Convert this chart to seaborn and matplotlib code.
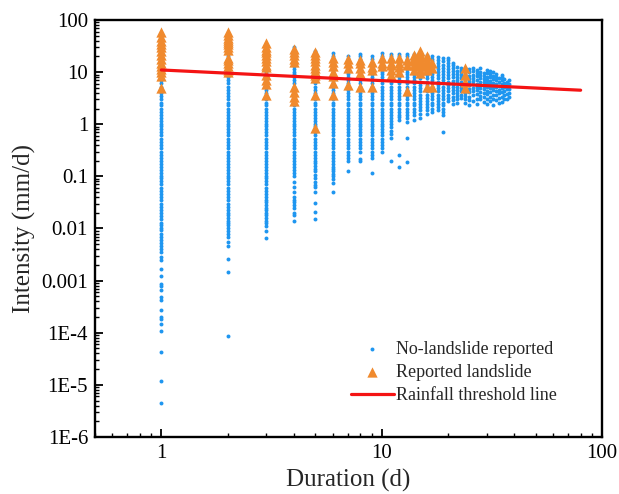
import numpy as np
import pandas as pd
import matplotlib
matplotlib.use("Agg")
import matplotlib.pyplot as plt
import seaborn as sns
from matplotlib.ticker import FixedLocator, LogLocator, NullFormatter

# Rainfall events with no reported landslide: intensity (mm/d) for each duration (d)
i_d01 = [4.5e-6, 1.2e-5, 4.3e-5, 1.1e-4, 1.5e-4, 1.8e-4, 2.0e-4, 2.7e-4, 4.3e-4, 4.8e-4,
         6.6e-4, 7.8e-4, 8.5e-4, 1.2e-3, 1.7e-3, 2.5e-3, 2.8e-3,
         0.0035, 0.004, 0.0046, 0.0053, 0.0061, 0.007, 0.008, 0.0092,
         0.01, 0.0115, 0.013, 0.015, 0.0175, 0.02, 0.023, 0.026, 0.03, 0.035, 0.04, 0.046,
         0.053, 0.061, 0.07, 0.08, 0.092,
         0.1, 0.115, 0.13, 0.15, 0.175, 0.2, 0.23, 0.26, 0.3, 0.35, 0.4, 0.46, 0.53, 0.61,
         0.7, 0.8, 0.92,
         1, 1.15, 1.3, 1.5, 1.75, 2, 2.3, 2.6, 3, 3.5, 4, 4.6, 5.3, 6.1, 7, 8, 9.2,
         10, 11.5, 13, 15, 17.5, 20, 23, 26, 30, 35, 40, 46, 53]
i_d02 = [8.5e-5, 1.45e-3, 2.6e-3, 4.6e-3, 5.5e-3, 0.0068, 0.008, 0.0089, 0.01, 0.0115,
         0.0126, 0.014, 0.016, 0.0178, 0.02, 0.023, 0.026, 0.03,
         0.035, 0.04, 0.046, 0.053, 0.061, 0.07, 0.08, 0.092,
         0.1, 0.115, 0.13, 0.15, 0.175, 0.2, 0.23, 0.26, 0.3, 0.35, 0.4, 0.46, 0.53, 0.61,
         0.7, 0.8, 0.92,
         1, 1.15, 1.3, 1.5, 1.75, 2, 2.3, 2.6, 3, 3.5, 4, 4.6, 5.3, 6.1, 7, 8, 9.2,
         10, 11.5, 13, 15, 17.5, 20, 23, 26, 30, 35, 40, 46, 53]
i_d03 = [0.0066, 0.0089, 0.011, 0.0126, 0.014, 0.016, 0.0178, 0.02, 0.0224, 0.025, 0.028,
         0.0316, 0.035, 0.04, 0.046, 0.053, 0.061, 0.07, 0.08, 0.092,
         0.1, 0.115, 0.13, 0.15, 0.175, 0.2, 0.23, 0.26, 0.3, 0.35, 0.4, 0.46, 0.53, 0.61,
         0.7, 0.8, 0.92,
         1, 1.15, 1.3, 1.5, 1.75, 2, 2.3, 2.6, 3, 3.5, 4, 4.6, 5.3, 6.1, 7, 8, 9.2,
         10, 11.5, 13, 15, 17.5, 20, 23, 26, 30, 35]
i_d04 = [0.0138, 0.0178, 0.02, 0.025, 0.028, 0.0316, 0.0355, 0.04, 0.05, 0.063, 0.079,
         0.1, 0.115, 0.13, 0.15, 0.175, 0.2, 0.23, 0.26, 0.3, 0.35, 0.4, 0.46, 0.53, 0.61,
         0.7, 0.8, 0.92,
         1, 1.15, 1.3, 1.5, 1.75, 2, 2.3, 2.6, 3, 3.5, 4, 4.6, 5.3, 6.1, 7, 8, 9.2,
         10, 11.5, 13, 15, 17.5, 20, 23, 26, 30]
i_d05 = [0.015, 0.021, 0.031, 0.05, 0.063, 0.068, 0.079, 0.093, 0.107, 0.126, 0.141,
         0.158, 0.178, 0.2, 0.23, 0.26, 0.3, 0.35, 0.4, 0.46, 0.53, 0.61, 0.7, 0.8, 0.92,
         1, 1.15, 1.3, 1.5, 1.75, 2, 2.3, 2.6, 3, 3.5, 4, 4.6, 5.3, 6.1, 7, 8, 9.2,
         10, 11.5, 13, 15, 17.5, 20, 23, 26]
i_d06 = [0.05, 0.074, 0.089, 0.1, 0.112, 0.126, 0.141, 0.15, 0.175, 0.2, 0.23, 0.26,
         0.3, 0.35, 0.4, 0.46, 0.53, 0.61, 0.7, 0.8, 0.92,
         1, 1.15, 1.3, 1.5, 1.75, 2, 2.3, 2.6, 3, 3.5, 4, 4.6, 5.3, 6.1, 7, 8, 9.2,
         10, 11.5, 13, 15, 17.5, 20, 23]
i_d07 = [0.126, 0.2, 0.224, 0.26, 0.3, 0.35, 0.4, 0.46, 0.53, 0.61, 0.7, 0.8, 0.92,
         1, 1.15, 1.3, 1.5, 1.75, 2, 2.3, 2.6, 3, 3.5, 4, 4.6, 5.3, 6.1, 7, 8, 9.2,
         10, 11.5, 13, 15, 17.5, 20]
i_d08 = [0.2, 0.22, 0.3, 0.35, 0.4, 0.46, 0.53, 0.61, 0.7, 0.8, 0.92,
         1, 1.15, 1.3, 1.5, 1.75, 2, 2.3, 2.6, 3, 3.5, 4, 4.6, 5.3, 6.1, 7, 8, 9.2,
         10, 11.5, 13, 15, 17.5, 20, 22]
i_d09 = [0.115, 0.23, 0.26, 0.3, 0.35, 0.4, 0.46, 0.53, 0.61, 0.7, 0.8, 0.92,
         1, 1.15, 1.3, 1.5, 1.75, 2, 2.3, 2.6, 3, 3.5, 4, 4.6, 5.3, 6.1, 7, 8, 9.2,
         10, 11.5, 13, 15, 17.5, 20]
i_d10 = [0.3, 0.35, 0.4, 0.46, 0.53, 0.61, 0.7, 0.8, 0.92,
         1, 1.15, 1.3, 1.5, 1.75, 2, 2.3, 2.6, 3, 3.5, 4, 4.6, 5.3, 6.1, 7, 8, 9.2,
         10, 11.5, 13, 15, 17.5, 20, 23]
i_d11 = [0.2, 0.55, 0.65, 0.75, 0.87,
         1, 1.15, 1.3, 1.5, 1.75, 2, 2.3, 2.6, 3, 3.5, 4, 4.6, 5.3, 6.1, 7, 8, 9.2,
         10, 11.5, 13, 15, 17.5, 20, 22]
i_d12 = [0.15, 0.26, 1.2, 1.4, 1.5, 1.75, 2, 2.3, 2.6, 3, 3.5, 4, 4.6, 5.3, 6.1, 7, 8, 9.2,
         10, 11.5, 13, 15, 17.5, 20, 22]
i_d13 = [0.19, 0.54, 1.1, 1.3, 1.5, 1.75, 2, 2.3, 2.6, 3, 3.5, 4, 4.6, 5.3, 6.1, 7, 8, 9.2,
         10, 11.5, 13, 15, 17.5, 20, 22]
i_d14 = [1.2, 1.5, 1.75, 2, 2.3, 2.6, 3, 3.5, 4, 4.6, 5.3, 6.1, 7, 8, 9.2,
         10, 11.5, 13, 15, 17.5, 20, 22]
i_d15 = [1.3, 1.6, 1.85, 2.1, 2.4, 2.8, 3.2, 3.7, 4.3, 5, 5.7, 6.6, 7.6, 8.7,
         10, 11.5, 13, 15, 17.5, 20, 22]
i_d16 = [1.6, 1.85, 2.1, 2.4, 2.8, 3.2, 3.7, 4.3, 5, 5.7, 6.6, 7.6, 8.7,
         10, 11.5, 13, 15, 17.5, 21]
i_d17 = [1.75, 2, 2.3, 2.6, 3, 3.5, 4, 4.6, 5.3, 6.1, 7, 8, 9.2,
         10.5, 12, 14, 16, 18, 20]
i_d18 = [1.85, 2.1, 2.4, 2.8, 3.2, 3.7, 4.3, 5, 5.7, 6.6, 7.6, 8.7,
         10, 11.5, 13, 15, 17, 19.5]
i_d19 = [0.7, 1.5, 1.75, 2, 2.3, 2.6, 3, 3.5, 4, 4.6, 5.3, 6.1, 7, 8, 9.2,
         10.5, 12, 14, 16, 18.5]
i_d20 = [2.8, 3.2, 3.7, 4.3, 5, 5.7, 6.6, 7.6, 8.7, 10, 11.5, 13, 15, 17, 18.5]
i_d21 = [2.5, 2.9, 3.4, 3.9, 4.5, 5.2, 6, 6.9, 8, 9.2, 10.5, 12, 13.5, 15]
i_d22 = [2.6, 3, 3.5, 4, 4.6, 5.3, 6.1, 7, 8, 9.2, 10.5, 12.5]
i_d23 = [3.2, 3.7, 4.3, 5, 5.7, 6.6, 7.6, 8.7, 10, 11, 12]
i_d24 = [2.6, 3.0, 3.5, 4.0, 4.6, 5.3, 6.1, 7.0, 8.0, 9.2, 10.5, 12]
i_d25 = [2.3, 2.9, 3.4, 4.1, 4.8, 5.6, 6.5, 7.5, 8.6, 10, 11.5]
i_d26 = [2.8, 3.6, 4.3, 5.0, 5.8, 6.8, 7.8, 9.0, 10.5, 12]
i_d27 = [2.4, 3.1, 3.8, 4.5, 5.2, 6.0, 7.2, 8.4, 9.6, 11]
i_d28 = [3.0, 3.5, 4.2, 4.9, 5.7, 6.6, 7.7, 8.9, 10.2, 11.8]
i_d29 = [2.7, 3.3, 4.0, 4.7, 5.5, 6.4, 7.4, 8.5, 9.8]
i_d30 = [2.5, 3.0, 3.8, 4.4, 5.2, 6.1, 7.1, 8.2, 9.5, 11]
i_d31 = [2.8, 3.4, 4.1, 4.9, 5.8, 6.8, 7.9, 9.2, 10.5]
i_d32 = [2.3, 3.1, 3.7, 4.5, 5.3, 6.2, 7.3, 8.5, 10]
i_d33 = [2.9, 3.6, 4.3, 5.1, 6.0, 7.0, 8.1, 9.4]
i_d34 = [2.6, 3.2, 3.9, 4.6, 5.5, 6.5, 7.6]
i_d35 = [2.7, 3.4, 4.2, 5.0, 5.9, 7.0, 8.2, 9.0]
i_d36 = [3.0, 3.6, 4.4, 5.3, 6.3, 7.4]
i_d37 = [3.1, 3.8, 4.7, 5.6, 6.6]
i_d38 = [3.3, 4.0, 4.8, 5.8, 7.0]

# Rainfall events with a reported landslide
slide_duration = ([1] * 14 + [2] * 14 + [3] * 13 + [4] * 9 + [5] * 11 + [6] * 7 + [7] * 4
                  + [8] * 5 + [9] * 4 + [10] * 3 + [11] * 5 + [12] * 4 + [13] * 3 + [14] * 5
                  + [15] * 8 + [16] * 6 + [17] * 3 + [24] * 4)
slide_intensity = [58, 47, 40, 35, 30, 25, 21, 18, 15, 13, 11.5, 10, 8.5, 5,
                   58, 52, 46, 42, 38, 34, 30, 27, 19, 17, 15, 13, 11, 10,
                   36, 31, 27, 24, 21, 18.5, 16, 14, 12.5, 8.8, 7.2, 6, 3.7,
                   28, 24, 21, 18, 15.5, 5.2, 4.2, 3.4, 2.8,
                   24, 21, 18.5, 16, 14, 12, 10.5, 9, 7.8, 3.7, 0.85,
                   19, 15.5, 13, 10, 8.5, 6.2, 3.7,
                   18, 15, 12, 5.6,
                   17, 15, 12, 9.6, 5.2,
                   15.5, 12.5, 11, 5.2,
                   19, 15, 13,
                   18.5, 15, 13.5, 11, 8.8,
                   18.5, 15, 12.5, 10,
                   17, 14, 4.4,
                   21, 18.5, 16, 13.5, 11,
                   25, 22, 19.5, 17, 15, 13, 11, 9.6,
                   20, 17, 15, 13, 11, 5.2,
                   15, 12, 5.2,
                   12, 8.8, 6.5, 5.0]

# Rainfall threshold line end points
threshold_duration = [1, 80]
threshold_intensity = [11.0, 4.5]

y_ticks = [1e-6, 1e-5, 1e-4, 1e-3, 1e-2, 1e-1, 1, 10, 100]
y_tick_labels = ["1E-6", "1E-5", "1E-4", "0.001", "0.01", "0.1", "1", "10", "100"]
x_ticks = [1, 10, 100]
x_tick_labels = ["1", "10", "100"]

no_slide = [i_d01, i_d02, i_d03, i_d04, i_d05, i_d06, i_d07, i_d08, i_d09, i_d10,
            i_d11, i_d12, i_d13, i_d14, i_d15, i_d16, i_d17, i_d18, i_d19, i_d20,
            i_d21, i_d22, i_d23, i_d24, i_d25, i_d26, i_d27, i_d28, i_d29, i_d30,
            i_d31, i_d32, i_d33, i_d34, i_d35, i_d36, i_d37, i_d38]
df_none = pd.DataFrame(
    [(d, v) for d, vals in enumerate(no_slide, start=1) for v in vals],
    columns=["duration", "intensity"],
)
df_slide = pd.DataFrame({"duration": slide_duration, "intensity": slide_intensity})
df_line = pd.DataFrame({"duration": threshold_duration, "intensity": threshold_intensity})

sns.set_style("ticks")
plt.rcParams["font.family"] = ["Liberation Serif", "DejaVu Serif"]

fig = plt.figure(figsize=(6.19, 4.94), dpi=100)
ax = fig.add_axes([0.1535, 0.1154, 0.819, 0.8441])
ax.set_xscale("log")
ax.set_yscale("log")

blue = "#1e96f0"
orange = "#f08a2e"
red = "#f41414"

sns.scatterplot(data=df_none, x="duration", y="intensity", ax=ax, s=8, color=blue,
                linewidth=0, label="No-landslide reported", zorder=2)
sns.scatterplot(data=df_slide, x="duration", y="intensity", ax=ax, s=55, marker="^",
                color=orange, linewidth=0, label="Reported landslide", zorder=3)
sns.lineplot(data=df_line, x="duration", y="intensity", ax=ax, color=red, linewidth=2.3,
             label="Rainfall threshold line", zorder=4)

ax.set_xlim(0.5, 100)
ax.set_ylim(1e-6, 100)

ax.xaxis.set_major_locator(FixedLocator(x_ticks))
ax.set_xticklabels(x_tick_labels)
ax.yaxis.set_major_locator(FixedLocator(y_ticks))
ax.set_yticklabels(y_tick_labels)
ax.xaxis.set_minor_locator(LogLocator(base=10, subs=np.arange(2, 10), numticks=20))
ax.yaxis.set_minor_locator(LogLocator(base=10, subs=np.arange(2, 10), numticks=20))
ax.xaxis.set_minor_formatter(NullFormatter())
ax.yaxis.set_minor_formatter(NullFormatter())

ax.tick_params(which="both", direction="in", top=False, right=False, colors="black")
ax.tick_params(which="major", length=6, width=1.3, labelsize=15, pad=5)
ax.tick_params(which="minor", length=3.2, width=1.0)
for sp in ax.spines.values():
    sp.set_linewidth(1.7)
    sp.set_color("black")

ax.set_xlabel("Duration (d)", fontsize=18, labelpad=4)
ax.set_ylabel("Intensity (mm/d)", fontsize=18, labelpad=4)

ax.legend(loc="lower right", bbox_to_anchor=(0.925, 0.062), frameon=False, fontsize=13,
          handlelength=2.4, handletextpad=0.1, labelspacing=0.34, borderaxespad=0)

fig.savefig("out.png", dpi=100)
